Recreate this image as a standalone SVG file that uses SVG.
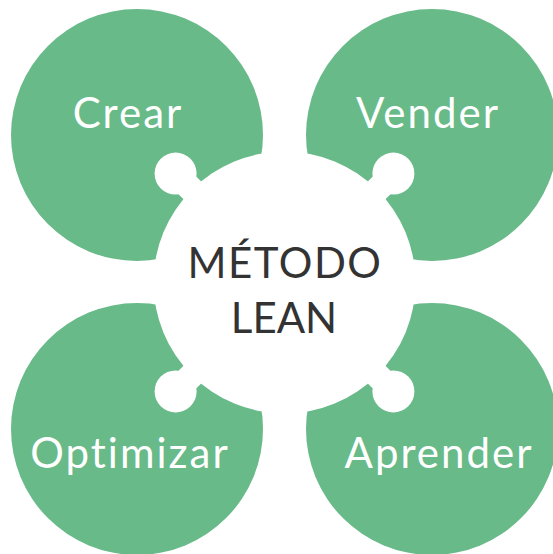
<svg xmlns="http://www.w3.org/2000/svg" width="553" height="554" viewBox="0 0 553 554">
  <style>
    .petal { fill: #68BA89; }
    .hub { fill: #FFFFFF; }
    .lbl { font-family: Lato, "Open Sans", sans-serif; font-size: 42px; fill: #FFFFFF; text-anchor: middle; letter-spacing: 2px; font-variant-ligatures: none; }
    .title { font-family: Lato, "Open Sans", sans-serif; font-size: 42px; fill: #333333; text-anchor: middle; font-variant-ligatures: none; }
  </style>
  <rect width="553" height="554" fill="#FFFFFF"/>
  <g id="crear">
    <circle class="petal" cx="137" cy="135" r="126"/>
  </g>
  <g id="vender">
    <circle class="petal" cx="432" cy="135" r="126"/>
  </g>
  <g id="optimizar">
    <circle class="petal" cx="137" cy="429" r="126"/>
  </g>
  <g id="aprender">
    <circle class="petal" cx="432" cy="429" r="126"/>
  </g>
  <g id="metodo-lean">
    <circle class="hub" cx="284.5" cy="282.5" r="131"/>
    <g transform="translate(284.5 282.5)">
      <g transform="rotate(-135)"><rect class="hub" x="0" y="-12.5" width="154" height="25"/><circle class="hub" cx="154" cy="0" r="21"/></g>
      <g transform="rotate(-45)"><rect class="hub" x="0" y="-12.5" width="154" height="25"/><circle class="hub" cx="154" cy="0" r="21"/></g>
      <g transform="rotate(45)"><rect class="hub" x="0" y="-12.5" width="154" height="25"/><circle class="hub" cx="154" cy="0" r="21"/></g>
      <g transform="rotate(135)"><rect class="hub" x="0" y="-12.5" width="154" height="25"/><circle class="hub" cx="154" cy="0" r="21"/></g>
    </g>
    <text class="title" x="285" y="278" style="letter-spacing:1.5px">MÉTODO</text>
    <text class="title" x="284" y="333">LEAN</text>
  </g>
  <g id="labels">
    <text class="lbl" x="128" y="128">Crear</text>
    <text class="lbl" x="428" y="128">Vender</text>
    <text class="lbl" x="130" y="468">Optimizar</text>
    <text class="lbl" x="439" y="468">Aprender</text>
  </g>
</svg>
